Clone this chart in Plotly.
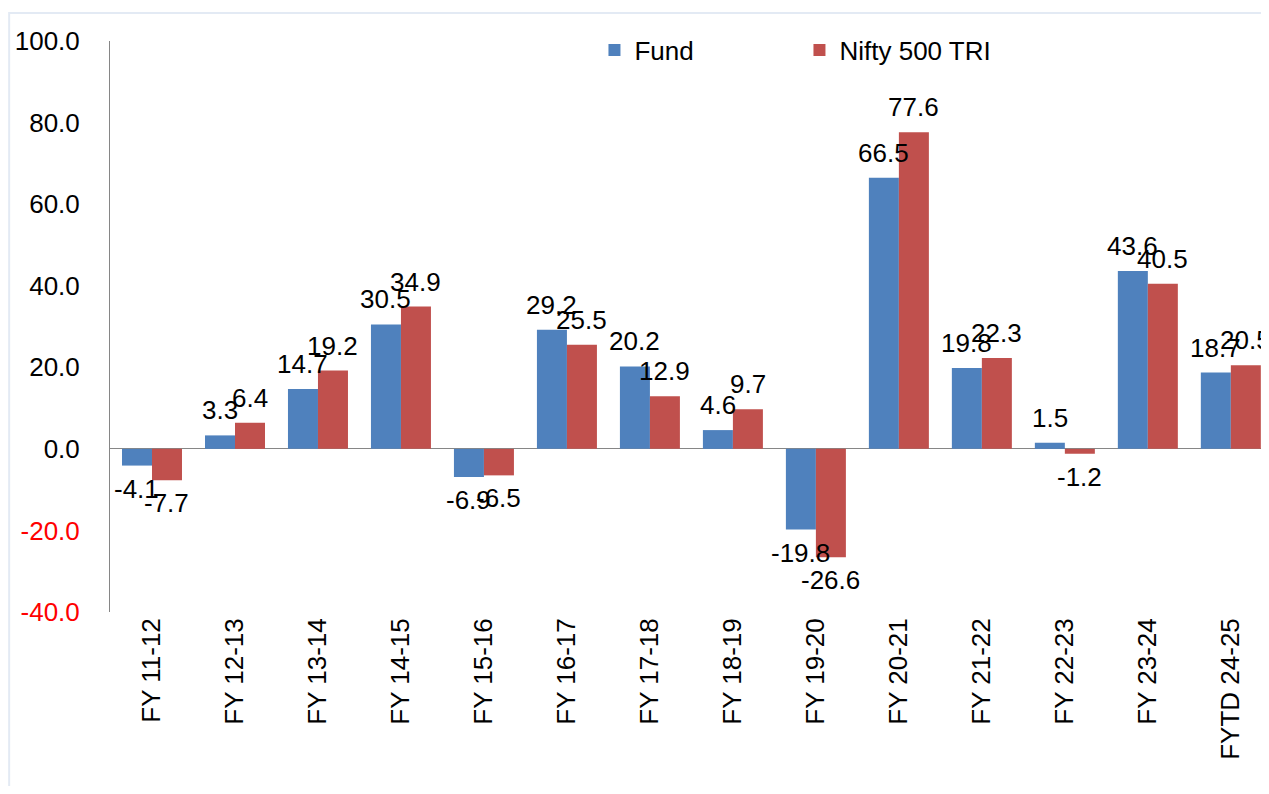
import plotly.graph_objects as go

categories = ["FY 11-12", "FY 12-13", "FY 13-14", "FY 14-15", "FY 15-16", "FY 16-17",
              "FY 17-18", "FY 18-19", "FY 19-20", "FY 20-21", "FY 21-22", "FY 22-23",
              "FY 23-24", "FYTD 24-25"]
fund = [-4.1, 3.3, 14.7, 30.5, -6.9, 29.2, 20.2, 4.6, -19.8, 66.5, 19.8, 1.5, 43.6, 18.7]
nifty = [-7.7, 6.4, 19.2, 34.9, -6.5, 25.5, 12.9, 9.7, -26.6, 77.6, 22.3, -1.2, 40.5, 20.5]
y_ticks = [100, 80, 60, 40, 20, 0, -20, -40]

FONT = "Liberation Sans, Arial, sans-serif"
BLUE = "#4F81BD"
RED = "#C0504D"

WIDTH, HEIGHT = 1261, 778
M_L, M_R, M_T, M_B = 102, 0, 33, 174
X_RANGE = [-0.506, 13.46]
BARGAP = 0.277

def tick_text(v):
    s = f"{v:.1f}"
    return f"<span style='color:#FF0000'>{s}</span>" if v < 0 else s

series = [("Fund", fund, BLUE), ("Nifty 500 TRI", nifty, RED)]

fig = go.Figure()
for name, vals, col in series:
    fig.add_trace(go.Bar(
        name=name, x=categories, y=vals,
        marker=dict(color=col, line=dict(width=0)),
    ))

# value labels as annotations (drawn above all bars)
cat_px = (WIDTH - M_L - M_R) / (X_RANGE[1] - X_RANGE[0])
bar_px = cat_px * (1 - BARGAP) / len(series)
for si, (name, vals, col) in enumerate(series):
    xshift = (si - (len(series) - 1) / 2) * bar_px
    for cat, v in zip(categories, vals):
        pos = v >= 0
        fig.add_annotation(
            x=cat, y=v, text=f"{v:.1f}", showarrow=False,
            xshift=xshift, yshift=8 if pos else -6,
            yanchor="bottom" if pos else "top", xanchor="center",
            font=dict(family=FONT, size=26, color="black"),
        )

fig.update_layout(
    width=WIDTH, height=HEIGHT,
    margin=dict(l=M_L, r=M_R, t=M_T, b=M_B, autoexpand=False),
    paper_bgcolor="white", plot_bgcolor="white",
    barmode="group", bargap=BARGAP, bargroupgap=0,
    font=dict(family=FONT, size=26, color="black"),
    showlegend=True,
    legend=dict(orientation="h", x=0.418, xanchor="left", y=0.984, yanchor="middle",
                font=dict(family=FONT, size=26, color="black"),
                entrywidth=160, entrywidthmode="pixels",
                bgcolor="rgba(0,0,0,0)", traceorder="normal"),
)
fig.update_xaxes(
    range=X_RANGE, showline=False, showgrid=False, ticks="",
    tickangle=-90, tickfont=dict(family=FONT, size=26, color="black"), automargin=False,
)
fig.update_yaxes(
    range=[-40, 100], tickvals=y_ticks, ticktext=[tick_text(v) for v in y_ticks],
    showgrid=False, showline=True, linecolor="#868686", linewidth=1,
    zeroline=True, zerolinecolor="#868686", zerolinewidth=1,
    ticks="", ticklabelstandoff=24, automargin=False,
    tickfont=dict(family=FONT, size=26, color="black"),
)
# faint outer chart border
fig.add_shape(type="rect", xref="paper", yref="paper",
              x0=-0.087, x1=1.02, y0=-0.4, y1=1.049,
              line=dict(color="#E3EAF4", width=2), fillcolor="rgba(0,0,0,0)", layer="below")

fig.write_html("out.html")
